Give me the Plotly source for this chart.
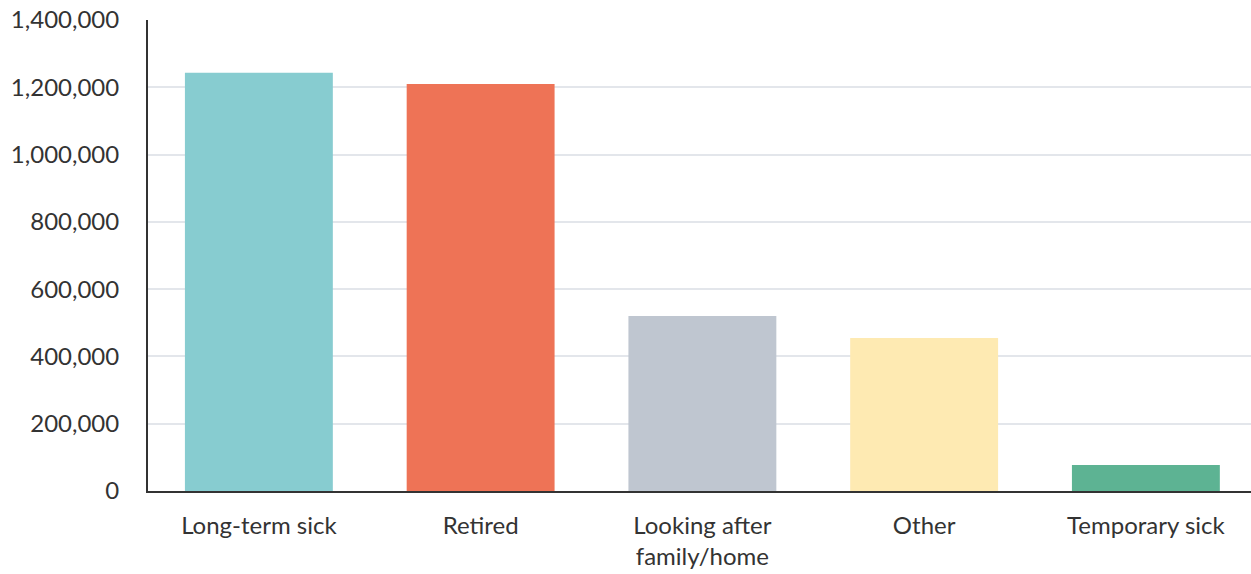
import plotly.graph_objects as go

categories = ["Long-term sick", "Retired", "Looking after<br>family/home", "Other", "Temporary sick"]
values = [1243000, 1210000, 520000, 455000, 77000]
colors = ["#87CCD0", "#EE7356", "#BFC6D0", "#FEEAB2", "#5DB393"]
y_ticks = [0, 200000, 400000, 600000, 800000, 1000000, 1200000, 1400000]

fig = go.Figure(
    go.Bar(
        x=list(range(len(categories))),
        y=values,
        marker=dict(color=colors, line=dict(width=0)),
        hovertext=categories,
        hoverinfo="text+y",
    )
)

fig.update_layout(
    width=1251,
    height=574,
    margin=dict(l=148, r=0, t=20, b=83),
    plot_bgcolor="white",
    paper_bgcolor="white",
    bargap=0.333,
    showlegend=False,
    font=dict(family="Lato, 'Noto Sans', sans-serif", size=24, color="#333333"),
)

fig.update_yaxes(
    range=[0, 1400000],
    tickvals=y_ticks,
    tickformat=",d",
    showgrid=True,
    gridcolor="#E3E6EB",
    gridwidth=2,
    showline=True,
    linecolor="#333333",
    linewidth=2,
    ticks="",
    ticklabelstandoff=22,
    zeroline=False,
)

# the last category runs slightly past the right edge of the plot area
fig.update_xaxes(
    range=[-0.5, 4.474],
    tickvals=list(range(len(categories))),
    ticktext=categories,
    showline=True,
    linecolor="#333333",
    linewidth=2,
    ticks="",
    ticklabelstandoff=12,
)

fig.write_html("out.html")
